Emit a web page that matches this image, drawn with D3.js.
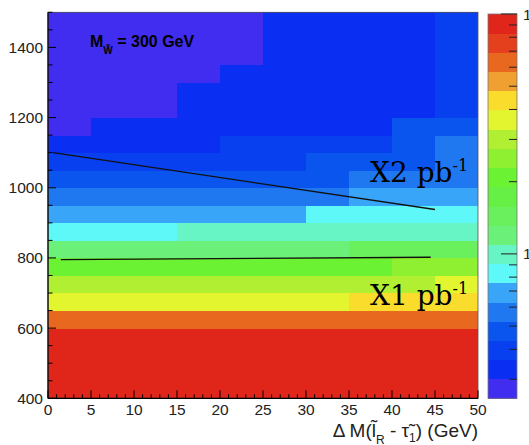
<!DOCTYPE html>
<html>
<head>
<meta charset="utf-8">
<script src="https://cdn.jsdelivr.net/npm/d3@7/dist/d3.min.js"></script>
<style>
  body { margin: 0; background: #fff; }
  svg { display: block; }
</style>
</head>
<body>
<div id="chart"></div>
<script>
// bin edges
var xEdges = [0, 5, 10, 15, 20, 25, 30, 35, 40, 45, 50];
var yEdges = d3.range(400, 1501, 50);

// cell contents, one row per y bin starting at 400-450, one value per x bin
var zRows = [
    [98, 98, 98, 98, 98, 98, 98, 98, 98, 98],
    [97, 97, 97, 97, 97, 97, 97, 97, 97, 97],
    [95, 95, 95, 95, 95, 95, 95, 95, 95, 95],
    [92, 92, 92, 92, 92, 92, 92, 92, 92, 92],
    [63, 63, 63, 63, 63, 63, 63, 63, 63, 63],
    [35, 35, 35, 36, 36, 36, 37, 41, 42, 43],
    [29, 29, 29, 30, 30, 30, 31, 31, 32, 34],
    [20, 20, 20.5, 21, 21, 21, 21.5, 22, 24, 25],
    [11.5, 11.5, 11.8, 12, 12, 12.2, 12.5, 13.5, 14, 14.5],
    [8.2, 8.4, 8.8, 9.3, 9.4, 9.5, 9.7, 10, 10.2, 10.5],
    [6.6, 6.7, 6.8, 6.9, 7, 7.2, 7.8, 8, 8.2, 8.4],
    [5.5, 5.6, 5.7, 5.8, 5.9, 6, 6.1, 6.5, 6.7, 6.9],
    [4.6, 4.7, 4.8, 4.8, 4.9, 5, 5.1, 5.4, 5.6, 5.8],
    [3.8, 3.9, 4, 4, 4.1, 4.2, 4.6, 4.8, 4.9, 5.5],
    [3.2, 3.3, 3.3, 3.4, 3.7, 3.7, 3.8, 3.9, 4.7, 5.4],
    [2.9, 3.1, 3.1, 3.2, 3.3, 3.4, 3.4, 3.5, 4.6, 4.6],
    [2.8, 2.9, 2.9, 3.1, 3.2, 3.3, 3.3, 3.4, 3.5, 4.1],
    [2.7, 2.8, 2.9, 3.05, 3.1, 3.2, 3.3, 3.3, 3.4, 4.0],
    [2.7, 2.8, 2.8, 2.9, 3.05, 3.1, 3.2, 3.3, 3.4, 3.9],
    [2.6, 2.7, 2.7, 2.8, 2.9, 3.05, 3.1, 3.2, 3.3, 3.8],
    [2.6, 2.6, 2.7, 2.8, 2.9, 3.05, 3.1, 3.2, 3.3, 3.8],
    [2.55, 2.6, 2.7, 2.8, 2.9, 3.05, 3.1, 3.2, 3.3, 3.8]
];

// colour axis
var zMin = 2.5, zMax = 100;
var palette = ["#412df0", "#0a2ff2", "#0840f0", "#0a55ee", "#1f78f0",
               "#39a5f8", "#5ff8f8", "#68f5c6", "#6bf07a", "#69f05c",
               "#66f045", "#6af233", "#8ef030", "#b0ef32", "#e3f52f",
               "#fadc2c", "#f0a030", "#e8681f", "#e4401e", "#e0261a"];

// luminosity contours
var contourX2 = [[0.6, 1100], [45, 938]];
var contourX1 = [[1.5, 795], [44.5, 802]];

var xTicks = d3.range(0, 51, 5);
var yTicks = [400, 600, 800, 1000, 1200, 1400];

var W = 529, H = 445;
var plot = {left: 48, right: 478, top: 12.3, bottom: 398.3};
var bar = {left: 488, right: 517, top: 14, bottom: 398.3};

var svg = d3.select("#chart").append("svg")
    .attr("width", W)
    .attr("height", H);

var x = d3.scaleLinear().domain([0, 50]).range([plot.left, plot.right]);
var y = d3.scaleLinear().domain([400, 1500]).range([plot.bottom, plot.top]);
var z = d3.scaleLog().domain([zMin, zMax]).range([bar.bottom, bar.top]);

var color = d3.scaleQuantize()
    .domain([Math.log10(zMin), Math.log10(zMax)])
    .range(palette);

function cellColor(v) {
    var lv = Math.log10(Math.max(zMin, Math.min(v, zMax * 0.999)));
    return color(lv);
}

// cells
var cells = [];
zRows.forEach(function (row, j) {
    row.forEach(function (v, i) {
        cells.push({i: i, j: j, v: v});
    });
});

svg.append("g").selectAll("rect")
    .data(cells)
    .enter().append("rect")
    .attr("x", function (d) { return x(xEdges[d.i]); })
    .attr("y", function (d) { return y(yEdges[d.j + 1]); })
    .attr("width", function (d) { return x(xEdges[d.i + 1]) - x(xEdges[d.i]) + 0.4; })
    .attr("height", function (d) { return y(yEdges[d.j]) - y(yEdges[d.j + 1]) + 0.4; })
    .attr("fill", function (d) { return cellColor(d.v); })
    .attr("shape-rendering", "crispEdges");

// contour lines
var line = d3.line()
    .x(function (d) { return x(d[0]); })
    .y(function (d) { return y(d[1]); });

[contourX2, contourX1].forEach(function (c) {
    svg.append("path")
        .attr("d", line(c))
        .attr("fill", "none")
        .attr("stroke", "#111")
        .attr("stroke-width", 1.3);
});

// frame
svg.append("rect")
    .attr("x", plot.left)
    .attr("y", plot.top)
    .attr("width", plot.right - plot.left)
    .attr("height", plot.bottom - plot.top)
    .attr("fill", "none")
    .attr("stroke", "#555")
    .attr("stroke-width", 0.8);

var axisCol = "#222";

// x axis: ticks inside the frame
var gx = svg.append("g");
gx.append("line")
    .attr("x1", plot.left).attr("x2", plot.right)
    .attr("y1", plot.bottom).attr("y2", plot.bottom)
    .attr("stroke", "#000").attr("stroke-width", 1.2);
gx.selectAll(".minor")
    .data(d3.range(0, 50.01, 1))
    .enter().append("line")
    .attr("x1", x).attr("x2", x)
    .attr("y1", plot.bottom)
    .attr("y2", function (d) { return plot.bottom - (d % 5 === 0 ? 8 : 4); })
    .attr("stroke", "#000").attr("stroke-width", 1);
gx.selectAll("text")
    .data(xTicks)
    .enter().append("text")
    .attr("x", x)
    .attr("y", plot.bottom + 17)
    .attr("text-anchor", "middle")
    .attr("font-family", "Liberation Sans, Arial, sans-serif")
    .attr("font-size", 15.5)
    .attr("fill", axisCol)
    .text(function (d) { return d; });

// y axis
var gy = svg.append("g");
gy.append("line")
    .attr("x1", plot.left).attr("x2", plot.left)
    .attr("y1", plot.top).attr("y2", plot.bottom)
    .attr("stroke", "#000").attr("stroke-width", 1.2);
gy.selectAll(".tick")
    .data(d3.range(400, 1500.01, 50))
    .enter().append("line")
    .attr("x1", plot.left)
    .attr("x2", function (d) { return plot.left + (d % 200 === 0 ? 8 : 4.5); })
    .attr("y1", y).attr("y2", y)
    .attr("stroke", "#000").attr("stroke-width", 1);
gy.selectAll("text")
    .data(yTicks)
    .enter().append("text")
    .attr("x", plot.left - 5)
    .attr("y", function (d) { return y(d) + 5.5; })
    .attr("text-anchor", "end")
    .attr("font-family", "Liberation Sans, Arial, sans-serif")
    .attr("font-size", 15.5)
    .attr("fill", axisCol)
    .text(function (d) { return d; });

// x axis title
var xt = svg.append("text")
    .attr("x", plot.right)
    .attr("y", 437)
    .attr("text-anchor", "end")
    .attr("font-family", "Liberation Sans, Arial, sans-serif")
    .attr("font-size", 19)
    .attr("fill", axisCol);
xt.append("tspan").text("\u0394 M(");
xt.append("tspan").text("l\u0303");
xt.append("tspan").attr("font-size", 12).attr("dy", 7).text("R");
xt.append("tspan").attr("dy", -7).text(" - \u03c4\u0303");
xt.append("tspan").attr("font-size", 12).attr("dy", 5).text("1");
xt.append("tspan").attr("dy", -5).text(") (GeV)");

// label inside the plot
var lab = svg.append("text")
    .attr("x", 90)
    .attr("y", 47)
    .attr("font-family", "Liberation Sans, Arial, sans-serif")
    .attr("font-weight", "bold")
    .attr("font-size", 16)
    .attr("fill", "#000");
lab.append("tspan").text("M");
lab.append("tspan").attr("font-size", 10).attr("dy", 7).text("W\u0303");
lab.append("tspan").attr("dy", -7).text(" = 300 GeV");

// luminosity labels
function lumiLabel(txt, px, py) {
    var t = svg.append("text")
        .attr("x", px)
        .attr("y", py)
        .attr("font-family", "DejaVu Serif, serif")
        .attr("font-size", 28)
        .attr("fill", "#000");
    t.append("tspan").text(txt + " pb");
    t.append("tspan").attr("font-size", 16).attr("dy", -11).text("-1");
}
lumiLabel("X2", 370, 182);
lumiLabel("X1", 370, 305);

// colour bar
var levels = d3.range(palette.length);
var step = (Math.log10(zMax) - Math.log10(zMin)) / palette.length;
svg.append("g").selectAll("rect")
    .data(levels)
    .enter().append("rect")
    .attr("x", bar.left)
    .attr("width", bar.right - bar.left)
    .attr("y", function (k) { return z(Math.pow(10, Math.log10(zMin) + (k + 1) * step)); })
    .attr("height", function (k) {
        return z(Math.pow(10, Math.log10(zMin) + k * step)) - z(Math.pow(10, Math.log10(zMin) + (k + 1) * step)) + 0.4;
    })
    .attr("fill", function (k) { return palette[k]; })
    .attr("shape-rendering", "crispEdges");

svg.append("rect")
    .attr("x", bar.left).attr("y", bar.top)
    .attr("width", bar.right - bar.left)
    .attr("height", bar.bottom - bar.top)
    .attr("fill", "none")
    .attr("stroke", "#777")
    .attr("stroke-width", 0.8);

var zTicks = [3, 4, 5, 6, 7, 8, 9, 10, 20, 30, 40, 50, 60, 70, 80, 90, 100];
svg.append("g").selectAll("line")
    .data(zTicks)
    .enter().append("line")
    .attr("x1", bar.right)
    .attr("x2", function (d) { return bar.right - (d === 10 || d === 100 ? 16 : 8); })
    .attr("y1", z).attr("y2", z)
    .attr("stroke", "#222").attr("stroke-width", 1);

// colour axis labels (clipped by the page edge, as in the original)
svg.append("g").selectAll("text")
    .data([10, 100])
    .enter().append("text")
    .attr("x", 523)
    .attr("y", function (d) { return z(d) + 5.5; })
    .attr("font-family", "Liberation Sans, Arial, sans-serif")
    .attr("font-size", 15.5)
    .attr("fill", axisCol)
    .text(function (d) { return d; });
</script>
</body>
</html>
